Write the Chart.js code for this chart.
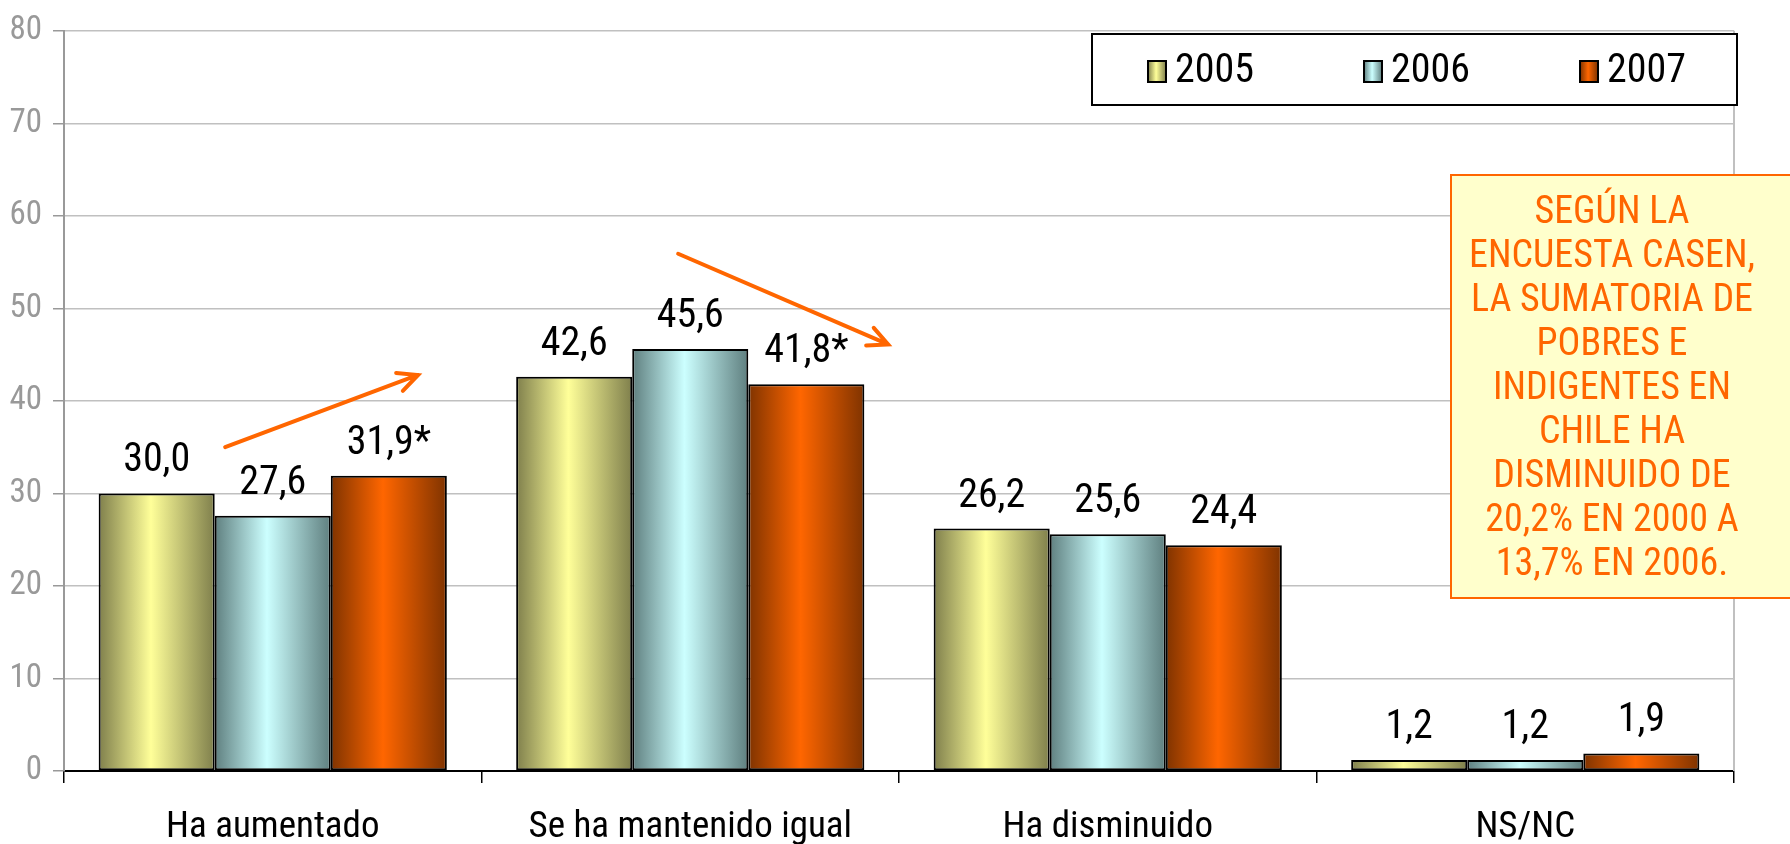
<!DOCTYPE html>
<html>
<head>
<meta charset="utf-8">
<script src="https://cdn.jsdelivr.net/npm/chart.js@4"></script>
<style>
  html, body { margin: 0; padding: 0; background: #fff; }
  #wrap { width: 1790px; height: 844px; position: relative; }
</style>
</head>
<body>
<div id="wrap"><canvas id="myChart"></canvas></div>
<script>
var categories = ["Ha aumentado", "Se ha mantenido igual", "Ha disminuido", "NS/NC"];
var years = ["2005", "2006", "2007"];
var values2005 = [30.0, 42.6, 26.2, 1.2];
var values2006 = [27.6, 45.6, 25.6, 1.2];
var values2007 = [31.9, 41.8, 24.4, 1.9];
var notes2007 = ["*", "*", "", ""];
var yTicks = [0, 10, 20, 30, 40, 50, 60, 70, 80];
// arrows in chart units: [fromIndex, fromValue, toIndex, toValue]
var arrows = [
  [-0.114, 35.0, 0.348, 42.8],
  [0.971, 55.9, 1.474, 46.1]
];
var noteLines = [
  "SEGÚN LA",
  "ENCUESTA CASEN,",
  "LA SUMATORIA DE",
  "POBRES E",
  "INDIGENTES EN",
  "CHILE HA",
  "DISMINUIDO DE",
  "20,2% EN 2000 A",
  "13,7% EN 2006."
];

var FONT = "'Roboto Condensed', 'Liberation Sans Narrow', 'Arial Narrow', sans-serif";
var ORANGE = "#FF6600";
var shades = [
  ["#7F7F4C", "#FFFF99"],
  ["#5F7F7F", "#CCFFFF"],
  ["#7F3300", "#FF6600"]
];

function makeGrad(ctx, x0, x1, shade) {
  var g = ctx.createLinearGradient(x0, 0, x1, 0);
  g.addColorStop(0, shade[0]);
  g.addColorStop(0.45, shade[1]);
  g.addColorStop(1, shade[0]);
  return g;
}

function barFill(context) {
  var shade = shades[context.datasetIndex];
  if (context.dataIndex === undefined) return shade[1];
  var el = context.chart.getDatasetMeta(context.datasetIndex).data[context.dataIndex];
  if (!el || !isFinite(el.x) || !isFinite(el.width)) return shade[1];
  return makeGrad(context.chart.ctx, el.x - el.width / 2, el.x + el.width / 2, shade);
}

function fmt(v) {
  return v.toFixed(1).replace(".", ",");
}

var valueLabels = {
  id: "valueLabels",
  afterDatasetsDraw: function(chart) {
    var ctx = chart.ctx;
    ctx.save();
    ctx.font = "40px " + FONT;
    ctx.fillStyle = "#000";
    ctx.textAlign = "center";
    ctx.textBaseline = "alphabetic";
    chart.data.datasets.forEach(function(ds, i) {
      chart.getDatasetMeta(i).data.forEach(function(el, j) {
        var txt = fmt(ds.data[j]) + (i === 2 ? notes2007[j] : "");
        ctx.fillText(txt, el.x, el.y - 22);
      });
    });
    ctx.restore();
  }
};

var extras = {
  id: "extras",
  afterDraw: function(chart) {
    var ctx = chart.ctx;
    var xs = chart.scales.x, ys = chart.scales.y;
    var area = chart.chartArea;
    ctx.save();

    // right frame line
    ctx.strokeStyle = "#C0C0C0";
    ctx.lineWidth = 2;
    ctx.beginPath();
    ctx.moveTo(area.right, area.top);
    ctx.lineTo(area.right, area.bottom);
    ctx.stroke();

    // arrows
    ctx.strokeStyle = ORANGE;
    ctx.lineWidth = 4;
    ctx.lineCap = "round";
    arrows.forEach(function(a) {
      var x0 = xs.getPixelForValue(a[0]), y0 = ys.getPixelForValue(a[1]);
      var x1 = xs.getPixelForValue(a[2]), y1 = ys.getPixelForValue(a[3]);
      var ang = Math.atan2(y1 - y0, x1 - x0);
      ctx.beginPath();
      ctx.moveTo(x0, y0);
      ctx.lineTo(x1, y1);
      ctx.moveTo(x1 - 22 * Math.cos(ang - 0.45), y1 - 22 * Math.sin(ang - 0.45));
      ctx.lineTo(x1, y1);
      ctx.lineTo(x1 - 22 * Math.cos(ang + 0.45), y1 - 22 * Math.sin(ang + 0.45));
      ctx.stroke();
    });

    // legend box
    ctx.fillStyle = "#fff";
    ctx.fillRect(1092, 34, 645, 71);
    ctx.strokeStyle = "#000";
    ctx.lineWidth = 2;
    ctx.strokeRect(1092, 34, 645, 71);
    var lx = [1148, 1364, 1580];
    ctx.font = "40px " + FONT;
    ctx.textAlign = "left";
    ctx.textBaseline = "middle";
    years.forEach(function(y, i) {
      ctx.fillStyle = makeGrad(ctx, lx[i], lx[i] + 18, shades[i]);
      ctx.fillRect(lx[i], 61, 18, 21);
      ctx.lineWidth = 2;
      ctx.strokeStyle = "#000";
      ctx.strokeRect(lx[i], 61, 18, 21);
      ctx.fillStyle = "#000";
      ctx.fillText(y, lx[i] + 27, 72);
    });

    // note box
    ctx.fillStyle = "#FFFFCC";
    ctx.fillRect(1451, 175, 345, 423);
    ctx.strokeStyle = ORANGE;
    ctx.lineWidth = 2;
    ctx.strokeRect(1451, 175, 345, 423);
    ctx.fillStyle = ORANGE;
    ctx.font = "38px " + FONT;
    ctx.textAlign = "center";
    ctx.textBaseline = "middle";
    noteLines.forEach(function(t, i) {
      ctx.fillText(t, 1612, 213 + i * 44);
    });
    ctx.restore();
  }
};

function barSet(i, values) {
  return {
    label: years[i],
    data: values,
    backgroundColor: barFill,
    borderColor: "#000",
    borderWidth: 2,
    borderSkipped: false,
    categoryPercentage: 0.834,
    barPercentage: 1.0
  };
}

var chart = new Chart("myChart", {
  type: "bar",
  data: {
    labels: categories,
    datasets: [
      barSet(0, values2005),
      barSet(1, values2006),
      barSet(2, values2007)
    ]
  },
  options: {
    responsive: true,
    maintainAspectRatio: false,
    animation: false,
    layout: { padding: { top: 25, right: 56, left: 0, bottom: 0 } },
    plugins: {
      legend: { display: false },
      tooltip: { enabled: false },
      colors: { enabled: false }
    },
    scales: {
      x: {
        grid: { offset: true, drawOnChartArea: false, drawTicks: true, tickLength: 12, color: "#000", lineWidth: 1.5 },
        border: { color: "#000", width: 2 },
        ticks: { font: { family: FONT, size: 37 }, color: "#000", padding: 23, maxRotation: 0, autoSkip: false },
        afterFit: function(s) { s.height = 73; }
      },
      y: {
        min: 0,
        max: 80,
        afterBuildTicks: function(s) { s.ticks = yTicks.map(function(v) { return { value: v }; }); },
        ticks: { font: { family: FONT, size: 33 }, color: "#999", padding: 11 },
        grid: { color: "#C0C0C0", lineWidth: 1.5, tickLength: 11, tickColor: "#999" },
        border: { color: "#999", width: 2 },
        afterFit: function(s) { s.width = 64; }
      }
    }
  },
  plugins: [valueLabels, extras]
});
chart.update("none");
</script>
</body>
</html>
